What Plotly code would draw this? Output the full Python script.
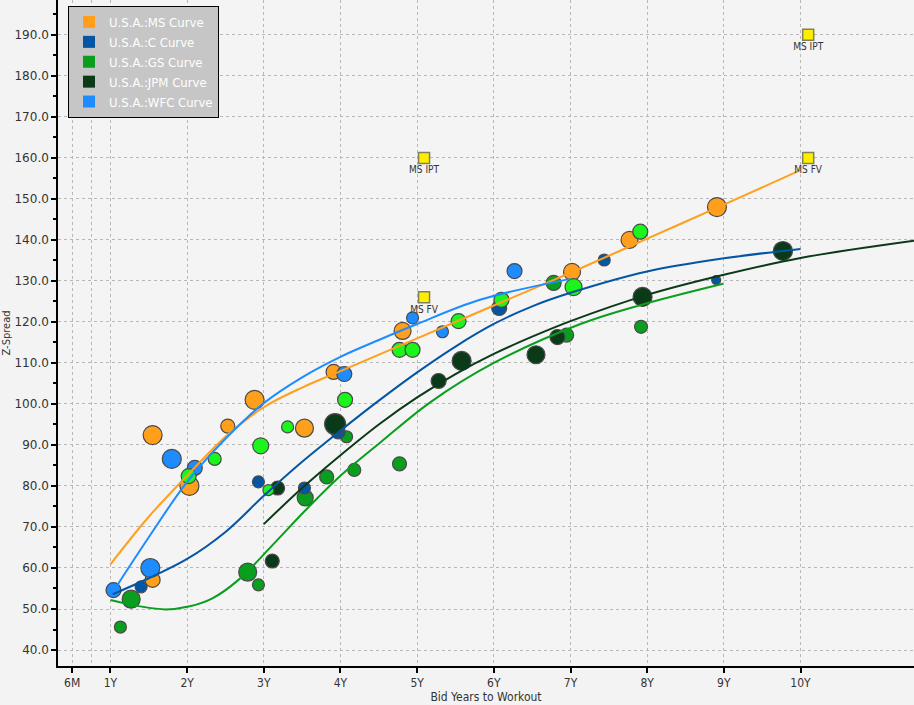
import plotly.graph_objects as go

# ---------------- data ----------------
ms_x = [1.55, 1.55, 2.03, 2.53, 2.88, 3.53, 3.91, 4.81, 7.02, 7.77, 8.91]
ms_y = [92.4, 57.1, 80.0, 94.6, 101.0, 94.1, 107.8, 117.8, 132.2, 140.0, 148.0]
ms_s = [19, 15, 19, 14, 19, 18, 15, 17, 17, 17, 19]

wfc_x = [1.04, 1.52, 1.80, 2.10, 4.05, 4.94, 5.33, 6.27]
wfc_y = [54.6, 60.0, 86.6, 84.4, 107.3, 121.0, 117.6, 132.4]
wfc_s = [15, 19, 19, 15, 15, 12, 12, 15]

c_x = [1.40, 2.93, 3.53, 3.97, 6.07, 7.44, 8.90]
c_y = [55.4, 81.0, 79.5, 93.2, 123.4, 135.1, 130.2]
c_s = [12, 12, 12, 14, 15, 12, 9]

lime_x = [2.02, 2.36, 2.96, 3.06, 3.31, 4.06, 4.77, 4.94, 5.54, 6.10, 7.04, 7.91]
lime_y = [82.4, 86.6, 89.8, 79.0, 94.4, 101.0, 113.2, 113.2, 120.2, 125.4, 128.5, 142.0]
lime_s = [15, 13, 16, 11, 12, 15, 15, 15, 15, 15, 17, 15]

gs_x = [1.13, 1.27, 2.79, 2.93, 3.54, 3.82, 4.08, 4.18, 4.77, 6.78, 6.95, 7.92]
gs_y = [45.6, 52.4, 59.0, 55.9, 77.1, 82.2, 92.0, 83.9, 85.4, 129.5, 116.8, 118.8]
gs_s = [12, 18, 18, 12, 16, 14, 12, 13, 14, 15, 14, 13]

jpm_x = [3.18, 3.11, 3.93, 5.28, 5.58, 6.55, 6.83, 7.94, 9.77]
jpm_y = [79.5, 61.7, 95.1, 105.6, 110.5, 112.0, 116.3, 126.1, 137.3]
jpm_s = [14, 14, 21, 15, 19, 18, 15, 19, 19]

ref_x = [10.1, 5.09, 10.1, 5.09]
ref_y = [190.0, 160.0, 160.0, 126.0]
ref_t = ["MS IPT", "MS IPT", "MS FV", "MS FV"]

# fitted curves
ms_cx = [1.0, 1.5, 2.0, 2.5, 3.0, 3.5, 4.0, 5.0, 6.0, 7.0, 8.0, 9.0, 10.0]
ms_cy = [60.9, 72.5, 82.5, 92.0, 99.2, 104.0, 108.0, 116.0, 124.0, 132.0, 140.3, 148.6, 157.0]

wfc_cx = [1.03, 1.5, 2.0, 2.5, 3.0, 3.5, 4.0, 4.5, 5.0, 5.82, 7.0]
wfc_cy = [54.1, 67.5, 81.0, 91.5, 100.2, 106.5, 111.5, 115.6, 119.5, 125.4, 130.5]

c_cx = [1.03, 1.5, 2.0, 2.5, 3.0, 3.5, 4.0, 4.5, 5.0, 5.5, 6.0, 6.5, 7.0, 8.0, 9.0, 10.0]
c_cy = [53.6, 57.5, 62.2, 68.8, 77.6, 85.9, 93.5, 100.8, 107.7, 114.0, 119.5, 123.8, 127.1, 132.3, 135.5, 137.8]

jpm_cx = [3.0, 3.5, 4.0, 4.5, 5.0, 5.5, 6.0, 6.5, 7.0, 8.0, 9.0, 10.0, 11.48]
jpm_cy = [70.7, 79.5, 87.5, 95.0, 101.6, 107.3, 112.2, 116.4, 120.2, 126.6, 131.5, 135.6, 139.8]

gs_cx = [1.0, 1.37, 1.72, 2.02, 2.33, 2.67, 3.11, 3.54, 4.0, 4.52, 5.17, 6.0, 7.13, 7.91, 8.99]
gs_cy = [52.2, 50.7, 49.9, 50.6, 52.6, 57.1, 65.5, 74.0, 82.5, 90.6, 100.4, 110.0, 119.5, 124.1, 129.3]

x_tickvals = [0.5, 1, 2, 3, 4, 5, 6, 7, 8, 9, 10]
x_ticktext = ["6M", "1Y", "2Y", "3Y", "4Y", "5Y", "6Y", "7Y", "8Y", "9Y", "10Y"]
y_tickvals = [40, 50, 60, 70, 80, 90, 100, 110, 120, 130, 140, 150, 160, 170, 180, 190]

names = ["U.S.A.:MS Curve", "U.S.A.:C Curve", "U.S.A.:GS Curve", "U.S.A.:JPM Curve", "U.S.A.:WFC Curve"]
# --------------------------------------

C_MS = "#FF9F1C"
C_C = "#0455A4"
C_GS = "#0A9E1E"
C_JPM = "#0B3A19"
C_WFC = "#1E8CFF"
C_LIME = "#1CF51C"
OUT = "#4a4a4a"

fig = go.Figure()

def pts(x, y, s, col):
    fig.add_trace(go.Scatter(
        x=x, y=y, mode="markers", showlegend=False, hoverinfo="skip",
        marker=dict(size=s, color=col, line=dict(color=OUT, width=1.2), opacity=1)))

pts(gs_x, gs_y, gs_s, C_GS)
pts(c_x, c_y, c_s, C_C)
pts(jpm_x, jpm_y, jpm_s, C_JPM)
pts(ms_x, ms_y, ms_s, C_MS)
pts(wfc_x, wfc_y, wfc_s, C_WFC)
pts(lime_x, lime_y, lime_s, C_LIME)

def curve(x, y, col):
    fig.add_trace(go.Scatter(
        x=x, y=y, mode="lines", showlegend=False, hoverinfo="skip",
        line=dict(color=col, width=2, shape="spline", smoothing=1.0)))

curve(gs_cx, gs_cy, C_GS)
curve(jpm_cx, jpm_cy, C_JPM)
curve(c_cx, c_cy, C_C)
curve(ms_cx, ms_cy, C_MS)
curve(wfc_cx, wfc_cy, C_WFC)

fig.add_trace(go.Scatter(
    x=ref_x, y=ref_y, text=ref_t, mode="markers+text", showlegend=False,
    textposition="bottom center", hoverinfo="skip",
    textfont=dict(family="DejaVu Sans Condensed, Liberation Sans Narrow, sans-serif", size=10, color="#333333"),
    marker=dict(symbol="square", size=11, color="#FFEE00", line=dict(color="#80805A", width=1.5))))

for nm, col in zip(names, [C_MS, C_C, C_GS, C_JPM, C_WFC]):
    fig.add_trace(go.Scatter(
        x=[None], y=[None], mode="markers", name=nm,
        marker=dict(symbol="square", size=14, color=col, line=dict(width=0))))

grid = dict(showgrid=True, gridcolor="#b8b8b8", griddash="dot", gridwidth=1)

fig.update_layout(
    width=914, height=705,
    margin=dict(l=58, r=0, t=0, b=39),
    paper_bgcolor="#f3f3f3", plot_bgcolor="#f4f4f4",
    font=dict(family="DejaVu Sans, Liberation Sans, sans-serif", size=12, color="#333333"),
    xaxis=dict(
        range=[0.316, 11.48], tickmode="array", tickvals=x_tickvals, ticktext=x_ticktext,
        ticks="outside", ticklen=5, tickwidth=2, tickcolor="#000000",
        showline=True, linecolor="#000000", linewidth=1.5, zeroline=False,
        tickfont=dict(family="DejaVu Sans Condensed, Liberation Sans Narrow, sans-serif", size=12, color="#333333"),
        title=dict(text="Bid Years to Workout", standoff=2,
                   font=dict(family="DejaVu Sans Condensed, sans-serif", size=12, color="#333333")),
        minor=dict(tickvals=[0.75], showgrid=True, gridcolor="#b8b8b8", griddash="dot", ticks=""),
        **grid),
    yaxis=dict(
        range=[36.1, 198.5], tickmode="array", tickvals=y_tickvals, tickformat=".1f",
        ticks="outside", ticklen=5, tickwidth=2, tickcolor="#000000",
        showline=True, linecolor="#000000", linewidth=1.5, zeroline=False,
        tickfont=dict(family="DejaVu Sans, sans-serif", size=12, color="#333333"),
        title=dict(text="Z-Spread", standoff=4,
                   font=dict(family="DejaVu Sans Condensed, sans-serif", size=11, color="#333333")),
        minor=dict(dtick=5, ticks="outside", ticklen=3, tickcolor="#000000", showgrid=False),
        **grid),
    legend=dict(
        x=0.0117, y=0.991, xanchor="left", yanchor="top",
        bgcolor="#c6c6c6", bordercolor="#000000", borderwidth=1,
        font=dict(family="DejaVu Sans Condensed, Liberation Sans, sans-serif", size=13, color="#ffffff"),
        itemsizing="constant", tracegroupgap=0, itemwidth=30),
    showlegend=True,
)

fig.write_html("out.html", config={"displayModeBar": False},
               post_script="document.body.style.margin='0';document.body.style.overflow='hidden';")
